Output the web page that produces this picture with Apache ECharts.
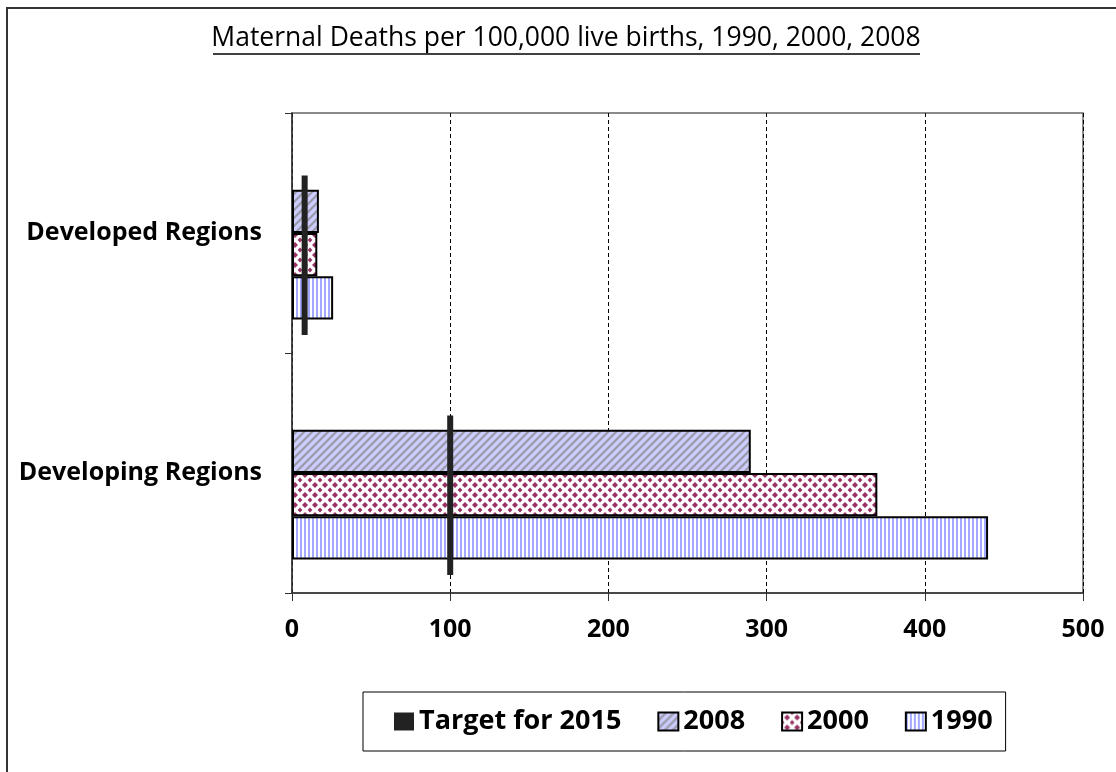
<!DOCTYPE html>
<html>
<head>
<meta charset="utf-8">
<script src="https://cdn.jsdelivr.net/npm/echarts@6/dist/echarts.min.js"></script>
<style>
  html, body { margin: 0; padding: 0; background: #fff; }
  #chart { width: 1116px; height: 772px; }
</style>
</head>
<body>
<div id="chart"></div>
<script>
const regions = ['Developing Regions', 'Developed Regions'];
const deaths1990 = [440, 26];
const deaths2000 = [370, 16];
const deaths2008 = [290, 17];
const target2015 = [100, 8];
const xTicks = [0, 100, 200, 300, 400, 500];

const font = '"Open Sans", "Noto Sans", sans-serif';

// fill patterns like the Excel ones
function stripes() {
    const c = document.createElement('canvas');
    c.width = 4; c.height = 4;
    const g = c.getContext('2d');
    g.fillStyle = '#fff'; g.fillRect(0, 0, 4, 4);
    g.fillStyle = '#a3a9ff'; g.fillRect(0, 0, 2, 4);
    return { image: c, repeat: 'repeat' };
}
function diamonds() {
    const c = document.createElement('canvas');
    c.width = 10; c.height = 10;
    const g = c.getContext('2d');
    g.fillStyle = '#fff'; g.fillRect(0, 0, 10, 10);
    g.fillStyle = '#993366';
    const d = (x, y, r) => {
        g.beginPath();
        g.moveTo(x, y - r); g.lineTo(x + r, y); g.lineTo(x, y + r); g.lineTo(x - r, y);
        g.closePath(); g.fill();
    };
    d(5, 5, 3);
    d(0, 0, 2.4); d(10, 0, 2.4); d(0, 10, 2.4); d(10, 10, 2.4);
    return { image: c, repeat: 'repeat' };
}
function hatch() {
    const c = document.createElement('canvas');
    c.width = 8; c.height = 8;
    const g = c.getContext('2d');
    g.fillStyle = '#ccccff'; g.fillRect(0, 0, 8, 8);
    g.strokeStyle = '#9a9aa6'; g.lineWidth = 2.2;
    [[0, 8, 8, 0], [-4, 4, 4, -4], [4, 12, 12, 4]].forEach(l => {
        g.beginPath(); g.moveTo(l[0], l[1]); g.lineTo(l[2], l[3]); g.stroke();
    });
    return { image: c, repeat: 'repeat' };
}

const barBorder = { borderColor: '#000', borderWidth: 2 };

const chart = echarts.init(document.getElementById('chart'));

const option = {
    animation: false,
    graphic: [
        { type: 'rect', shape: { x: 7, y: 8, width: 1200, height: 900 },
          style: { fill: 'none', stroke: '#333', lineWidth: 2 }, silent: true },
        { type: 'text', x: 566, y: 38,
          style: { text: 'Maternal Deaths per 100,000 live births, 1990, 2000, 2008',
                   font: '26.5px ' + font, fill: '#000', textAlign: 'center', textVerticalAlign: 'middle' } },
        { type: 'line', shape: { x1: 213, y1: 54, x2: 920, y2: 54 },
          style: { stroke: '#000', lineWidth: 1.5 } }
    ],
    legend: {
        data: ['Target for 2015', '2008', '2000', '1990'],
        left: 363,
        top: 692,
        padding: [16, 13, 16, 31],
        borderColor: '#000',
        borderWidth: 1,
        itemWidth: 20,
        itemHeight: 18,
        itemGap: 36,
        icon: 'rect',
        textStyle: { fontFamily: font, fontSize: 27, fontWeight: 'bold', color: '#000' }
    },
    grid: {
        left: 292, right: 33, top: 113, bottom: 179,
        show: true, borderColor: '#666', borderWidth: 1.5
    },
    xAxis: {
        type: 'value',
        min: 0, max: 500, interval: 100,
        axisLine: { show: true, lineStyle: { color: '#333', width: 1.5 } },
        axisTick: { show: true, length: 8, lineStyle: { color: '#333' } },
        axisLabel: {
            margin: 24, color: '#000', fontFamily: font, fontSize: 25, fontWeight: 'bold',
            formatter: v => xTicks.includes(v) ? String(v) : ''
        },
        splitLine: { show: true, lineStyle: { color: '#000', type: [4, 3], width: 1 } }
    },
    yAxis: {
        type: 'category',
        data: regions,
        axisLine: { show: true, lineStyle: { color: '#333', width: 1.5 } },
        axisTick: { show: true, length: 7, lineStyle: { color: '#333' } },
        axisLabel: { margin: 30, color: '#000', fontFamily: font, fontSize: 25, fontWeight: 'bold' },
        splitLine: { show: false }
    },
    series: [
        {
            // empty slot that Excel keeps for the target series
            name: 'slot', type: 'bar', data: [null, null],
            barGap: '0%', barCategoryGap: '28%'
        },
        {
            name: '2008', type: 'bar', data: deaths2008,
            barGap: '0%', barCategoryGap: '28%',
            itemStyle: Object.assign({ color: hatch() }, barBorder)
        },
        {
            name: '2000', type: 'bar', data: deaths2000,
            barGap: '0%', barCategoryGap: '28%',
            itemStyle: Object.assign({ color: diamonds() }, barBorder)
        },
        {
            name: '1990', type: 'bar', data: deaths1990,
            barGap: '0%', barCategoryGap: '28%',
            itemStyle: Object.assign({ color: stripes() }, barBorder)
        },
        {
            name: 'Target for 2015', type: 'custom',
            itemStyle: { color: '#222' },
            encode: { x: 0, y: 1 },
            data: target2015.map((v, i) => [v, i]),
            renderItem: function (params, api) {
                const pt = api.coord([api.value(0), api.value(1)]);
                const band = api.size([0, 1])[1];
                return {
                    type: 'line',
                    shape: { x1: pt[0], y1: pt[1] - 0.24 * band, x2: pt[0], y2: pt[1] + 0.425 * band },
                    style: { stroke: '#222', lineWidth: 6 }
                };
            },
            z: 5
        }
    ]
};

chart.setOption(option);
</script>
</body>
</html>
